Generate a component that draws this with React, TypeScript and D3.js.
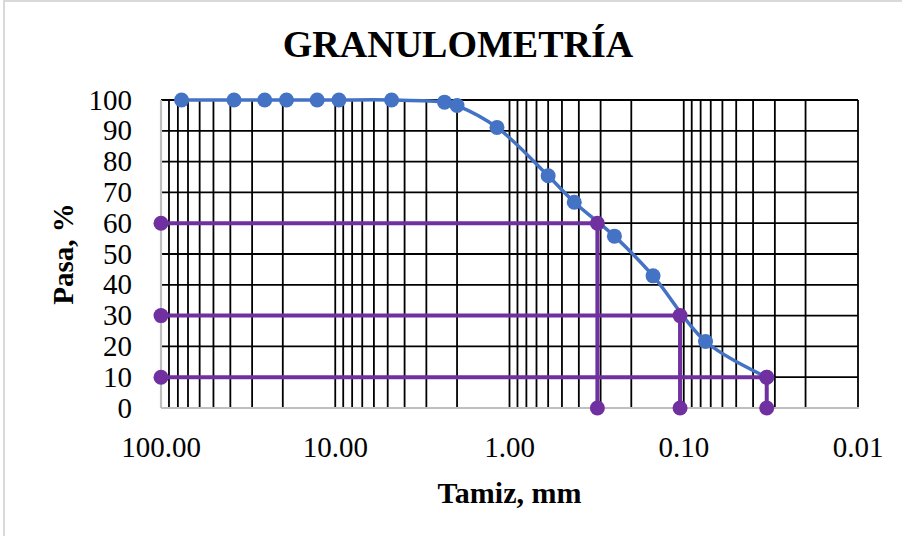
import { useEffect, useRef } from 'react';
import * as d3 from 'd3';

// tamices (mm) y % que pasa
const sieveSizes = [76.2, 38.1, 25.4, 19.05, 12.7, 9.525, 4.75, 2.36, 2.0, 1.18, 0.6, 0.425, 0.25, 0.15, 0.075, 0.0334];
const passing = [100, 100, 100, 100, 100, 100, 100, 99.3, 98.2, 91.1, 75.4, 66.8, 55.8, 42.9, 21.6, 10];

// diametros efectivos D60, D30, D10
const dLabels = ['D60', 'D30', 'D10'];
const dSizes = [0.313, 0.105, 0.0334];
const dPercents = [60, 30, 10];

const xTicks = [100, 10, 1, 0.1, 0.01];
const yTicks = [0, 10, 20, 30, 40, 50, 60, 70, 80, 90, 100];

const W = 902;
const H = 536;

export default function App() {
  const svgRef = useRef<SVGSVGElement>(null);

  useEffect(() => {
    document.body.style.margin = '0';
    if (!svgRef.current) return;

    const svg = d3.select(svgRef.current);
    svg.selectAll('*').remove();

    const margin = { top: 100, right: 44, bottom: 128, left: 161 };
    const innerWidth = W - margin.left - margin.right;
    const innerHeight = H - margin.top - margin.bottom;

    const x = d3.scaleLog().domain([100, 0.01]).range([margin.left, margin.left + innerWidth]);
    const y = d3.scaleLinear().domain([0, 100]).range([margin.top + innerHeight, margin.top]);

    const serif = '"Liberation Serif", "Times New Roman", serif';

    svg.append('rect')
      .attr('x', 4).attr('y', 1).attr('width', W + 10).attr('height', H + 10)
      .attr('fill', '#fff').attr('stroke', '#d9d9d9').attr('stroke-width', 2);

    // vertical log gridlines
    const minor: number[] = [];
    [0.01, 0.1, 1, 10].forEach(d => {
      for (let k = 1; k <= 9; k++) minor.push(+(d * k).toPrecision(3));
    });
    minor.push(100);

    const grid = svg.append('g');
    grid.selectAll('line.v')
      .data(minor)
      .enter()
      .append('line')
      .attr('class', 'v')
      .attr('x1', d => x(d)).attr('x2', d => x(d))
      .attr('y1', y(100)).attr('y2', y(0))
      .attr('stroke', '#000').attr('stroke-width', 1.8);

    grid.selectAll('line.h')
      .data(yTicks.filter(d => d > 0))
      .enter()
      .append('line')
      .attr('class', 'h')
      .attr('x1', x(100)).attr('x2', x(0.01))
      .attr('y1', d => y(d)).attr('y2', d => y(d))
      .attr('stroke', '#000').attr('stroke-width', 1.8);

    // axes lines
    svg.append('line')
      .attr('x1', x(100)).attr('x2', x(100)).attr('y1', y(100)).attr('y2', y(0))
      .attr('stroke', '#bfbfbf').attr('stroke-width', 2.2);
    svg.append('line')
      .attr('x1', x(100)).attr('x2', x(0.01) + 1).attr('y1', y(0)).attr('y2', y(0))
      .attr('stroke', '#bfbfbf').attr('stroke-width', 2.2);

    // tick labels
    svg.selectAll('text.yt')
      .data(yTicks)
      .enter()
      .append('text')
      .attr('class', 'yt')
      .attr('x', 132)
      .attr('y', d => y(d) + 9.5)
      .attr('text-anchor', 'end')
      .style('font-family', serif)
      .style('font-size', '29px')
      .style('fill', '#000')
      .text(d => d);

    svg.selectAll('text.xt')
      .data(xTicks)
      .enter()
      .append('text')
      .attr('class', 'xt')
      .attr('x', d => x(d))
      .attr('y', 457)
      .attr('text-anchor', 'middle')
      .style('font-family', serif)
      .style('font-size', '29px')
      .style('fill', '#000')
      .text(d => d.toFixed(2));

    // titles
    svg.append('text')
      .attr('x', 458).attr('y', 57)
      .attr('text-anchor', 'middle')
      .style('font-family', serif)
      .style('font-size', '38px')
      .style('font-weight', 'bold')
      .text('GRANULOMETRÍA');

    svg.append('text')
      .attr('x', (x(100) + x(0.01)) / 2).attr('y', 503)
      .attr('text-anchor', 'middle')
      .style('font-family', serif)
      .style('font-size', '30px')
      .style('font-weight', 'bold')
      .text('Tamiz, mm');

    svg.append('text')
      .attr('transform', `translate(73,${(y(0) + y(100)) / 2}) rotate(-90)`)
      .attr('text-anchor', 'middle')
      .style('font-family', serif)
      .style('font-size', '29px')
      .style('font-weight', 'bold')
      .text('Pasa, %');

    // curva granulometrica
    const pts: [number, number][] = sieveSizes.map((s, i) => [x(s), y(passing[i])]);
    const line = d3.line().curve(d3.curveCatmullRom.alpha(0.5));
    svg.append('path')
      .attr('d', line(pts))
      .attr('fill', 'none')
      .attr('stroke', '#4472C4')
      .attr('stroke-width', 3.5);

    svg.selectAll('circle.pt')
      .data(pts)
      .enter()
      .append('circle')
      .attr('class', 'pt')
      .attr('cx', d => d[0]).attr('cy', d => d[1])
      .attr('r', 7.5)
      .attr('fill', '#4472C4');

    // lineas D60, D30, D10
    const purple = '#7030A0';
    dLabels.forEach((_, i) => {
      const dp: [number, number][] = [
        [x(100), y(dPercents[i])],
        [x(dSizes[i]), y(dPercents[i])],
        [x(dSizes[i]), y(0)],
      ];
      svg.append('path')
        .attr('d', d3.line()(dp))
        .attr('fill', 'none')
        .attr('stroke', purple)
        .attr('stroke-width', 4);
      svg.selectAll(`circle.d${i}`)
        .data(dp)
        .enter()
        .append('circle')
        .attr('class', `d${i}`)
        .attr('cx', d => d[0]).attr('cy', d => d[1])
        .attr('r', 7.5)
        .attr('fill', purple);
    });
  }, []);

  return <svg ref={svgRef} width={W} height={H} style={{ display: 'block' }} />;
}
